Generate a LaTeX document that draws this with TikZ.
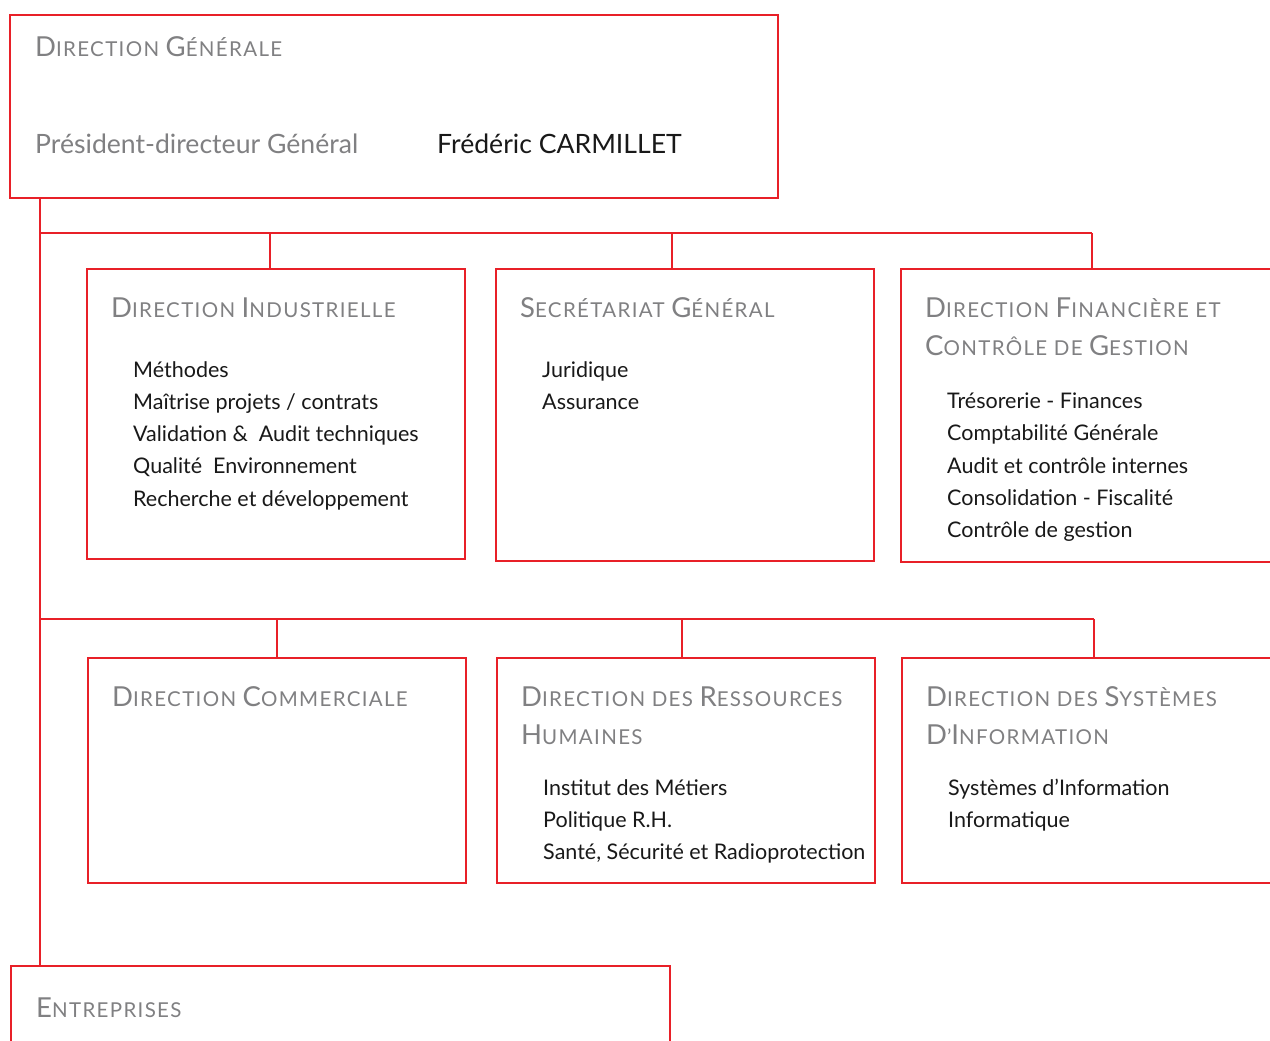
\documentclass[tikz,border=0pt]{standalone}
\usepackage{fontspec}
\setmainfont{Lato}
\definecolor{orgred}{RGB}{232,32,40}
\definecolor{headgray}{RGB}{128,128,130}
\definecolor{bodyblack}{RGB}{25,25,25}
\newcommand\BigL[1]{{\fontsize{27.5}{27.5}\selectfont #1}}
\begin{document}
\begin{tikzpicture}[x=1pt,y=-1pt,
  box/.style={draw=orgred, line width=1.1pt, inner sep=0pt},
  link/.style={draw=orgred, line width=1.5pt},
  head/.style={anchor=base west, inner sep=0pt, text=headgray, font=\fontsize{20.5}{20.5}\selectfont\addfontfeature{LetterSpace=6.5}},
  item/.style={anchor=base west, inner sep=0pt, text=bodyblack, font=\fontsize{21.5}{21.5}\selectfont},
  big/.style={anchor=base west, inner sep=0pt, font=\fontsize{26.6}{26.6}\selectfont}]
\useasboundingbox (0,0) rectangle (1270,1041);
\clip (0,0) rectangle (1270,1041);
\fill[white] (0,0) rectangle (1270,1041);

% boxes
\draw[box] (10,15) rectangle (778,198);
\draw[box] (87,269) rectangle (465,559);
\draw[box] (496,269) rectangle (874,561);
\draw[box] (901,269) rectangle (1290,562);
\draw[box] (88,658) rectangle (466,883);
\draw[box] (497,658) rectangle (875,883);
\draw[box] (902,658) rectangle (1290,883);
\draw[box] (11,966) rectangle (670,1060);

% junction coordinates
\coordinate (dgs) at (40,198);
\coordinate (j1) at (40,233);
\coordinate (j2) at (40,619);
\coordinate (ents) at (40,966);
\coordinate (b1a) at (270,233); \coordinate (t1a) at (270,269);
\coordinate (b1b) at (672,233); \coordinate (t1b) at (672,269);
\coordinate (b1c) at (1092,233); \coordinate (t1c) at (1092,269);
\coordinate (b2a) at (277,619); \coordinate (t2a) at (277,658);
\coordinate (b2b) at (682,619); \coordinate (t2b) at (682,658);
\coordinate (b2c) at (1094,619); \coordinate (t2c) at (1094,658);

\draw[link] (dgs) -- (ents);
\draw[link] (j1) -- (b1c);
\draw[link] (j2) -- (b2c);
\draw[link] (b1a) -- (t1a);
\draw[link] (b1b) -- (t1b);
\draw[link] (b1c) -- (t1c);
\draw[link] (b2a) -- (t2a);
\draw[link] (b2b) -- (t2b);
\draw[link] (b2c) -- (t2c);

% Direction Generale
\node[head] (dgh) at (35,57) {\BigL{D}IRECTION \BigL{G}ÉNÉRALE};
\node[big, text=headgray] (pdg) at (35,153) {Président-directeur Général};
\node[big, text=bodyblack] (fc) at (437,153) {Frédéric CARMILLET};

% Direction Industrielle
\node[head] (dih) at (111,317) {\BigL{D}IRECTION \BigL{I}NDUSTRIELLE};
\node[item] (di1) at (133,377) {Méthodes};
\node[item] (di2) at (133,409) {Maîtrise projets / contrats};
\node[item] (di3) at (133,441) {Validation \&\ \ Audit techniques};
\node[item] (di4) at (133,473) {Qualité\ \ Environnement};
\node[item] (di5) at (133,506) {Recherche et développement};

% Secretariat General
\node[head] (sgh) at (520,317) {\BigL{S}ECRÉTARIAT \BigL{G}ÉNÉRAL};
\node[item] (sg1) at (542,377) {Juridique};
\node[item] (sg2) at (542,409) {Assurance};

% Direction Financiere
\node[head] (dfh1) at (925,317) {\BigL{D}IRECTION \BigL{F}INANCIÈRE ET};
\node[head] (dfh2) at (925,355) {\BigL{C}ONTRÔLE DE \BigL{G}ESTION};
\node[item] (df1) at (947,408) {Trésorerie - Finances};
\node[item] (df2) at (947,440) {Comptabilité Générale};
\node[item] (df3) at (947,473) {Audit et contrôle internes};
\node[item] (df4) at (947,505) {Consolidation - Fiscalité};
\node[item] (df5) at (947,537) {Contrôle de gestion};

% Direction Commerciale
\node[head] (dch) at (112,706) {\BigL{D}IRECTION \BigL{C}OMMERCIALE};

% DRH
\node[head] (drhh1) at (521,706) {\BigL{D}IRECTION DES \BigL{R}ESSOURCES};
\node[head] (drhh2) at (521,744) {\BigL{H}UMAINES};
\node[item] (drh1) at (543,795) {Institut des Métiers};
\node[item] (drh2) at (543,827) {Politique R.H.};
\node[item] (drh3) at (543,859) {Santé, Sécurité et Radioprotection};

% DSI
\node[head] (dsih1) at (926,706) {\BigL{D}IRECTION DES \BigL{S}YSTÈMES};
\node[head] (dsih2) at (926,744) {\BigL{D}’\BigL{I}NFORMATION};
\node[item] (dsi1) at (948,795) {Systèmes d’Information};
\node[item] (dsi2) at (948,827) {Informatique};

% Entreprises
\node[head] (enth) at (36,1017) {\BigL{E}NTREPRISES};
\end{tikzpicture}
\end{document}
